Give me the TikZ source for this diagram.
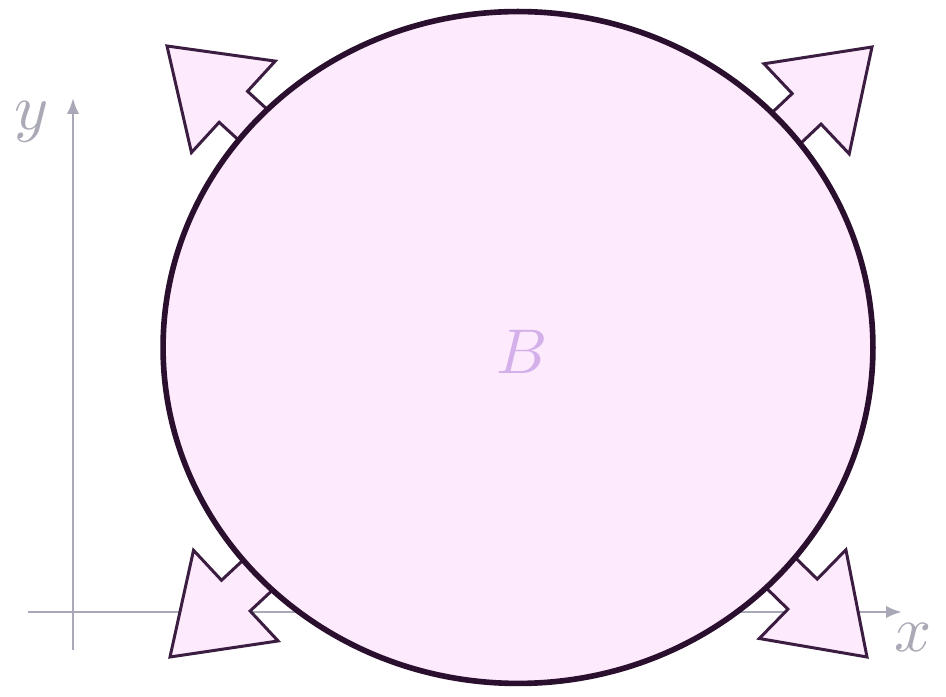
\documentclass[tikz,border=0pt]{standalone}
\usepackage{amsmath,amssymb}
\usepackage{tikz}
\usetikzlibrary{arrows.meta,shapes.geometric}
\definecolor{setfill}{HTML}{FDEAFC}
\definecolor{setline}{HTML}{2A0F2E}
\definecolor{arrline}{HTML}{3A1D40}
\definecolor{axisgray}{HTML}{A8A8B6}
\definecolor{labgray}{HTML}{AAAAB6}
\definecolor{setlabel}{HTML}{D4B0EA}
\tikzset{
  axis/.style={
    draw=axisgray, line width=1.6pt,
    -{Latex[length=9pt,width=7pt]}
  },
  axislabel/.style={
    text=labgray, scale=3.7, inner sep=0pt
  },
  setbody/.style={
    ellipse, draw=setline, fill=setfill, line width=3.2pt,
    inner sep=0pt
  },
  setlabel/.style={
    text=setlabel, scale=3.6, inner sep=0pt
  },
  outarrow/.pic={
    \draw[draw=arrline, fill=setfill, line width=1.7pt]
      (0,0) -- (-90,62) -- (-90,21) -- (-200,21)
      -- (-200,-21) -- (-90,-21) -- (-90,-62) -- cycle;
  }
}

\begin{document}
\begin{tikzpicture}[x=0.02cm,y=0.02cm]
  \useasboundingbox (0,0) rectangle (946,696);

  % axes
  \coordinate (o) at (73,84);
  \coordinate (xleft) at (28,84);
  \coordinate (xtip) at (902,84);
  \coordinate (ybot) at (73,46);
  \coordinate (ytip) at (73,598);
  \draw[axis] (xleft) -- (xtip);
  \draw[axis] (ybot) -- (ytip);
  \node[axislabel] (xlab) at (913,58) {$x$};
  \node[axislabel] (ylab) at (32,574) {$y$};

  % arrows pointing out of the set
  \pic[rotate=137.5] (nw) at (167,650) {outarrow};
  \pic[rotate=43.4] (ne) at (872,649) {outarrow};
  \pic[rotate=223] (sw) at (170,39) {outarrow};
  \pic[rotate=-44.3] (se) at (867,39) {outarrow};

  % the set
  \node[setbody, minimum width=14.2cm, minimum height=13.44cm]
    (setB) at (518,348.5) {};
  \node[setlabel] (labB) at (522,344) {$B$};
\end{tikzpicture}
\end{document}
